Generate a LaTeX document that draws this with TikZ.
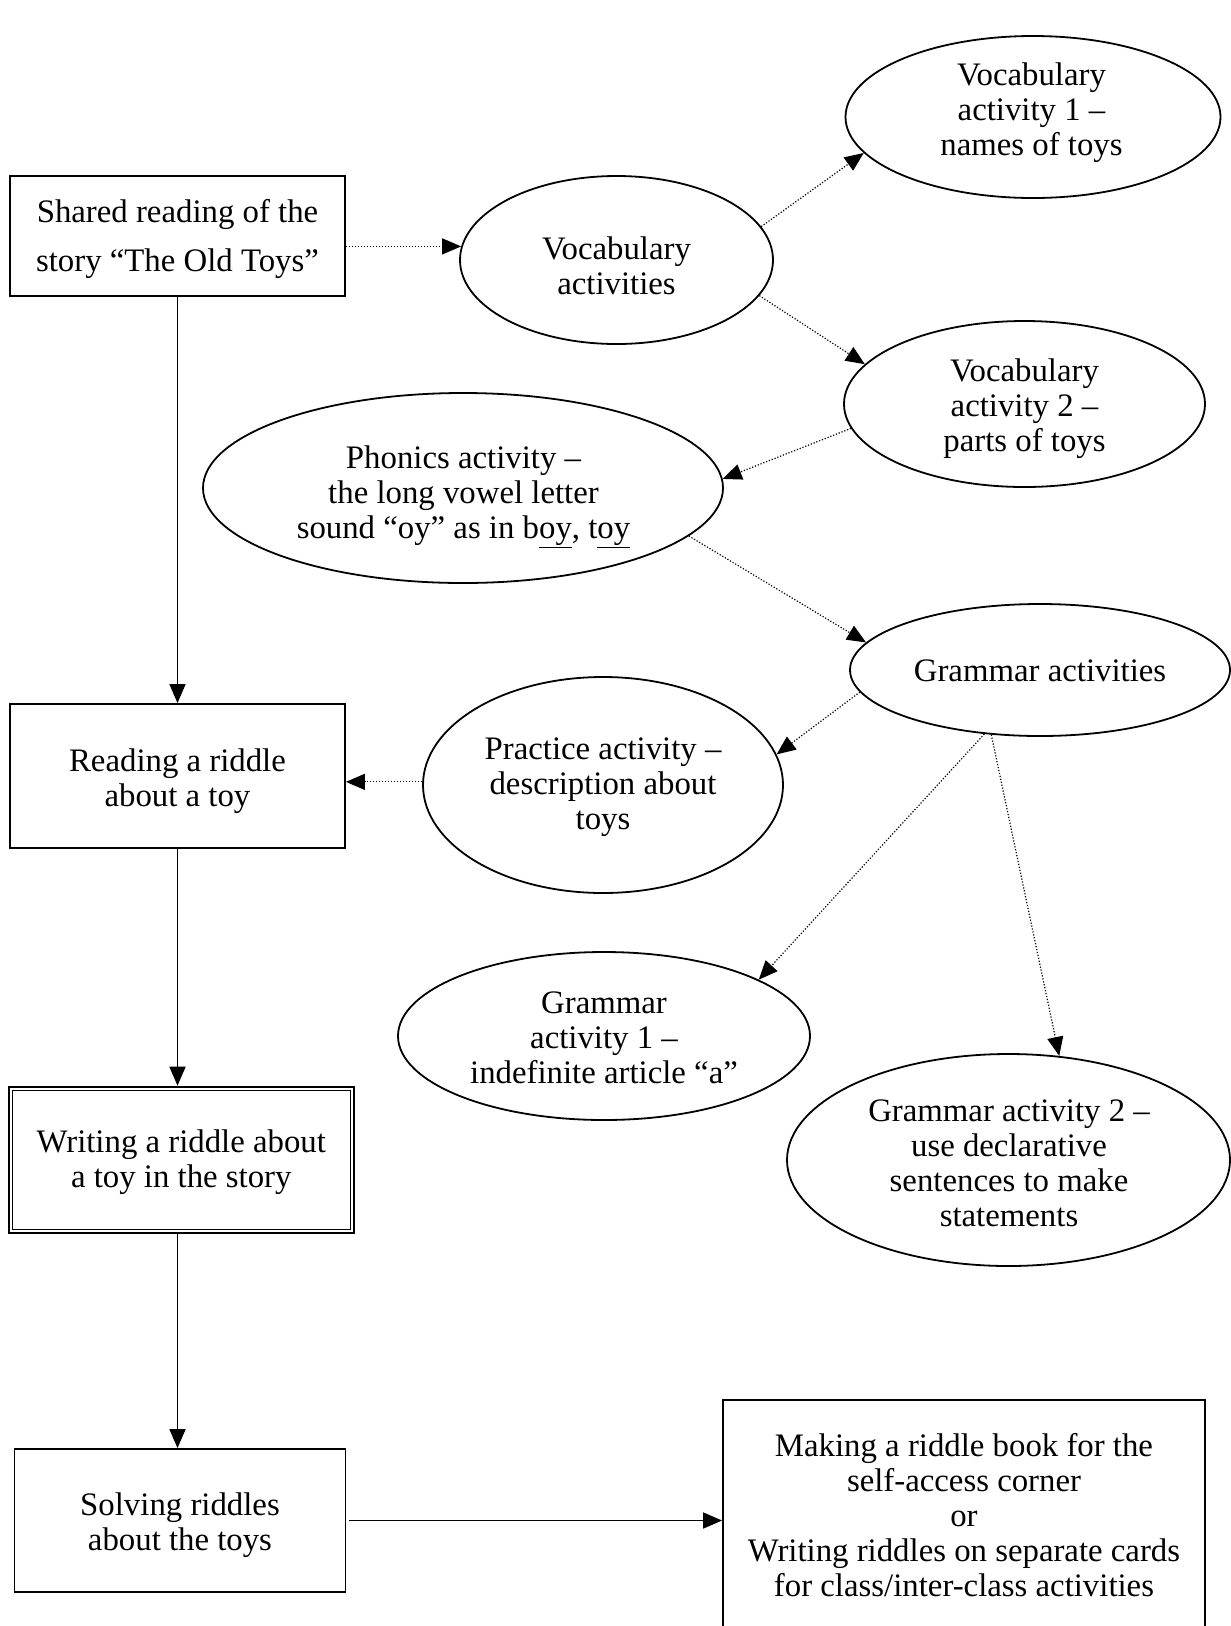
\documentclass[tikz,border=0pt]{standalone}
\usepackage{fontspec}
\setmainfont{Liberation Serif}
\usetikzlibrary{shapes.geometric,arrows.meta,calc}
\newcommand\txtfont{\fontsize{32.8}{35}\selectfont}
\tikzset{
  box/.style={draw, line width=1.8pt, rectangle, inner sep=0pt},
  oval/.style={draw, ellipse, line width=1.8pt, inner sep=0pt},
  txt/.style={align=center, inner sep=0pt, font=\txtfont},
  dotarrow/.style={line width=1.2pt, dash pattern=on 1.2pt off 1.8pt, -{Triangle[length=19pt,width=16pt]}},
  solidarrow/.style={line width=1.6pt, -{Triangle[length=19pt,width=16pt]}},
}
\begin{document}
\begin{tikzpicture}[x=1pt,y=-1pt]
\useasboundingbox (0,0) rectangle (1231,1626);
\fill[white] (0,0) rectangle (1231,1626);
\clip (0,0) rectangle (1231,1626);

% boxes
\node[box, minimum width=335pt, minimum height=120pt] (box1) at (177.5,236) {};
\node[txt, font=\fontsize{32.8}{48.5}\selectfont] (tbox1) at (177.5,239)
  {Shared reading of the\\story ``The Old Toys''};
\node[box, minimum width=335pt, minimum height=144pt] (box2) at (177.5,776) {};
\node[txt] (tbox2) at (177.5,781) {Reading a riddle\\about a toy};
\node[box, line width=2.6pt, minimum width=345pt, minimum height=146pt] (box3) at (181.3,1160) {};
\draw[line width=1.4pt] ($(box3.north west)+(4.8,4.8)$) rectangle ($(box3.south east)+(-4.8,-4.8)$);
\node[txt] (tbox3) at (181.3,1162) {Writing a riddle about\\a toy in the story};
\node[box, minimum width=331pt, minimum height=143pt] (box4) at (180,1520.5) {};
\node[txt] (tbox4) at (180,1525) {Solving riddles\\about the toys};
\node[box, minimum width=482pt, minimum height=240pt] (box5) at (964,1520) {};
\node[txt] (tbox5) at (964,1515)
  {Making a riddle book for the\\self-access corner\\or\\Writing riddles on separate cards\\for class/inter-class activities};

% ellipses
\node[oval, minimum width=313pt, minimum height=168pt] (va) at (616.5,260) {};
\node[txt] (tva) at (616.5,265.5) {Vocabulary\\activities};
\node[oval, minimum width=375pt, minimum height=162pt] (v1) at (1033,117) {};
\node[txt] (tv1) at (1031.5,113) {Vocabulary\\activity 1 --\\names of toys};
\node[oval, minimum width=361pt, minimum height=166pt] (v2) at (1024.5,404) {};
\node[txt] (tv2) at (1024.5,409) {Vocabulary\\activity 2 --\\parts of toys};
\node[oval, minimum width=520pt, minimum height=190pt] (ph) at (463,488) {};
\node[txt] (tph) at (463.5,497)
  {Phonics activity --\\the long vowel letter\\sound ``oy'' as in b\underline{oy}, t\underline{oy}};
\node[oval, minimum width=380pt, minimum height=132pt] (ga) at (1040,670) {};
\node[txt] (tga) at (1040,671) {Grammar activities};
\node[oval, minimum width=360pt, minimum height=216pt] (pr) at (603,785) {};
\node[txt] (tpr) at (603,787) {Practice activity --\\description about\\toys};
\node[oval, minimum width=412pt, minimum height=168pt] (g1) at (604,1036) {};
\node[txt] (tg1) at (604,1038) {Grammar\\activity 1 --\\indefinite article ``a''};
\node[oval, minimum width=443pt, minimum height=212pt] (g2) at (1008.5,1160) {};
\node[txt] (tg2) at (1009,1163)
  {Grammar activity 2 --\\use declarative\\sentences to make\\statements};

% dotted connectors
\draw[dotarrow] (box1.east |- va.175.5) -- (va.175.5);
\draw[dotarrow] (va.13) -- (v1.192);
\draw[dotarrow] (va.-14) -- (v2.166);
\draw[dotarrow] (v2.188) -- (ph.2);
\draw[dotarrow] (ph.-12) -- (ga.171);
\draw[dotarrow] (ga.187) -- (pr.10);
\draw[dotarrow] (pr.179) -- (box2.east |- pr.179);
\draw[dotarrow] (ga.229) -- (g1.20);
\draw[dotarrow] (ga.233) -- (g2.64);

% solid connectors
\draw[solidarrow] (box1) -- (box1 |- box2.north);
\draw[solidarrow] (box2) -- (box2 |- box3.north);
\draw[solidarrow] (box2 |- box3.south) -- (box2 |- box4.north);
\draw[solidarrow, shorten <=3pt] (box4.east) -- (box4.east -| box5.west);
\end{tikzpicture}
\end{document}
